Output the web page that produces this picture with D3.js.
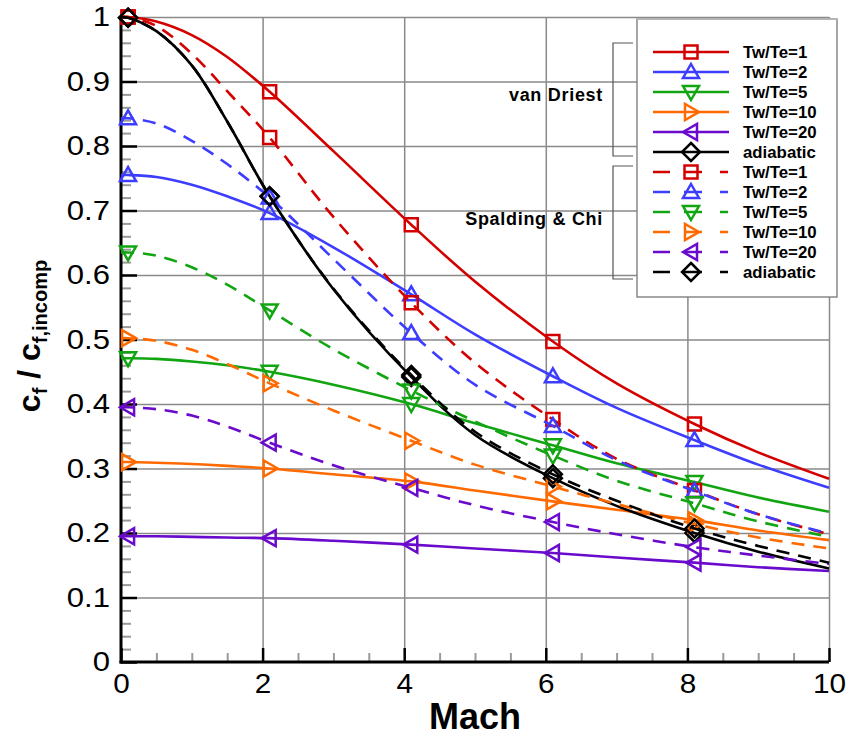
<!DOCTYPE html>
<html><head><meta charset="utf-8">
<script src="https://cdn.jsdelivr.net/npm/d3@7"></script>
<style>
body{margin:0;background:#fff}
svg{display:block}
text{font-family:"Liberation Sans",Arial,Helvetica,sans-serif}
</style>
</head><body>
<svg id="chart" width="848" height="738"></svg>
<script>
// ---------- data ----------
const mach = [0, 0.1, 0.5, 1, 1.5, 2.1, 3, 4.1, 5, 6.1, 7, 8.1, 9, 10];
const markerMach = [0.1, 2.1, 4.1, 6.1, 8.1];

// van Driest (solid)
const vd1  = [1.000, 1.000, 0.993, 0.972, 0.938, 0.884, 0.792, 0.678, 0.590, 0.497, 0.432, 0.369, 0.325, 0.284];
const vd2  = [0.755, 0.755, 0.752, 0.740, 0.722, 0.696, 0.643, 0.570, 0.508, 0.443, 0.394, 0.344, 0.306, 0.270];
const vd5  = [0.471, 0.471, 0.470, 0.466, 0.460, 0.450, 0.430, 0.400, 0.370, 0.336, 0.308, 0.279, 0.255, 0.233];
const vd10 = [0.310, 0.310, 0.309, 0.307, 0.304, 0.300, 0.291, 0.280, 0.266, 0.249, 0.236, 0.220, 0.204, 0.189];
const vd20 = [0.195, 0.195, 0.195, 0.194, 0.193, 0.192, 0.188, 0.182, 0.176, 0.169, 0.162, 0.154, 0.147, 0.141];
const vdAd = [1.000, 0.999, 0.978, 0.925, 0.838, 0.722, 0.578, 0.442, 0.352, 0.285, 0.242, 0.200, 0.171, 0.145];

// Spalding & Chi (dashed)
const sc1  = [1.000, 1.000, 0.986, 0.943, 0.885, 0.813, 0.690, 0.557, 0.464, 0.376, 0.315, 0.266, 0.229, 0.198];
const sc2  = [0.843, 0.843, 0.835, 0.808, 0.772, 0.720, 0.625, 0.510, 0.430, 0.366, 0.313, 0.265, 0.229, 0.199];
const sc5  = [0.635, 0.635, 0.630, 0.612, 0.585, 0.545, 0.485, 0.421, 0.373, 0.320, 0.281, 0.246, 0.218, 0.194];
const sc10 = [0.502, 0.502, 0.498, 0.484, 0.462, 0.432, 0.390, 0.343, 0.306, 0.272, 0.245, 0.214, 0.193, 0.176];
const sc20 = [0.395, 0.395, 0.392, 0.382, 0.365, 0.340, 0.305, 0.270, 0.243, 0.217, 0.198, 0.178, 0.165, 0.152];
const scAd = [1.000, 0.999, 0.978, 0.925, 0.838, 0.722, 0.579, 0.445, 0.357, 0.291, 0.250, 0.207, 0.180, 0.154];

const seriesNames = ["Tw/Te=1", "Tw/Te=2", "Tw/Te=5", "Tw/Te=10", "Tw/Te=20", "adiabatic"];
const groupNames = ["van Driest", "Spalding & Chi"];
const groupValues = [[vd1, vd2, vd5, vd10, vd20, vdAd], [sc1, sc2, sc5, sc10, sc20, scAd]];

const xTicks = [0, 2, 4, 6, 8, 10];
const xTickLabels = ["0", "2", "4", "6", "8", "10"];
const xMinor = [0.5, 1, 1.5, 2.5, 3, 3.5, 4.5, 5, 5.5, 6.5, 7, 7.5, 8.5, 9, 9.5];
const yTicks = [0, 0.1, 0.2, 0.3, 0.4, 0.5, 0.6, 0.7, 0.8, 0.9, 1];
const yTickLabels = ["0", "0.1", "0.2", "0.3", "0.4", "0.5", "0.6", "0.7", "0.8", "0.9", "1"];
const yMinor = d3.range(0, 50).map(i => i / 50).filter((v, i) => i % 5 !== 0);

const xTitle = "Mach";

// ---------- styles ----------
const colors = ["#d40000", "#3d3dff", "#12a512", "#ff6a00", "#6a0acc", "#000000"];
const shapes = ["square", "triUp", "triDown", "triRight", "triLeft", "diamond"];
const dashStyles = [null, "13,9"];

// ---------- layout ----------
const svg = d3.select("#chart");
const X0 = 121, X1 = 829, Y0 = 662, Y1 = 17;
const x = d3.scaleLinear().domain([0, 10]).range([X0, X1]);
const y = d3.scaleLinear().domain([0, 1]).range([Y0, Y1]);

function markerPath(shape) {
  switch (shape) {
    case "square": return "M-6.5,-6.5H6.5V6.5H-6.5Z";
    case "triUp": return "M0,-8L8,6L-8,6Z";
    case "triDown": return "M0,8L8,-6L-8,-6Z";
    case "triRight": return "M8,0L-6,-8L-6,8Z";
    case "triLeft": return "M-8,0L6,-8L6,8Z";
    case "diamond": return "M0,-9L9,0L0,9L-9,0Z";
  }
}
function stretch(sel, k) {
  sel.each(function () {
    const w = this.getComputedTextLength();
    d3.select(this).attr("textLength", w * k).attr("lengthAdjust", "spacingAndGlyphs");
  });
}

// grid
const grid = svg.append("g");
grid.append("g").attr("transform", `translate(0,${Y0})`)
  .call(d3.axisBottom(x).tickValues(xTicks.filter(v => v > 0)).tickSize(-(Y0 - Y1)).tickFormat(""))
  .call(g => g.select(".domain").remove())
  .call(g => g.selectAll("line").attr("stroke", "#8a8a8a").attr("stroke-width", 1.5));
grid.append("g").attr("transform", `translate(${X0},0)`)
  .call(d3.axisLeft(y).tickValues(yTicks.filter(v => v > 0)).tickSize(-(X1 - X0)).tickFormat(""))
  .call(g => g.select(".domain").remove())
  .call(g => g.selectAll("line").attr("stroke", "#8a8a8a").attr("stroke-width", 1.5));

// minor ticks
svg.append("g").attr("transform", `translate(0,${Y0})`)
  .call(d3.axisBottom(x).tickValues(xMinor).tickSize(-9).tickFormat(""))
  .call(g => g.select(".domain").remove())
  .call(g => g.selectAll("line").attr("stroke", "#9a9a9a").attr("stroke-width", 2));
svg.append("g").attr("transform", `translate(${X0},0)`)
  .call(d3.axisLeft(y).tickValues(yMinor).tickSize(-10).tickFormat(""))
  .call(g => g.select(".domain").remove())
  .call(g => g.selectAll("line").attr("stroke", "#9a9a9a").attr("stroke-width", 2));

// major axes
svg.append("g").attr("transform", `translate(0,${Y0})`)
  .call(d3.axisBottom(x).tickValues(xTicks).tickSize(-14).tickPadding(12).tickFormat((d, i) => xTickLabels[i]))
  .call(g => g.select(".domain").remove())
  .call(g => g.selectAll("line").attr("stroke", "#000").attr("stroke-width", 2.5))
  .call(g => g.selectAll("text").attr("font-size", 27).attr("fill", "#000")
    .style("font-family", '"Liberation Sans",Arial,sans-serif'))
  .call(g => stretch(g.selectAll("text"), 1.1));
svg.append("g").attr("transform", `translate(${X0},0)`)
  .call(d3.axisLeft(y).tickValues(yTicks).tickSize(-16).tickPadding(11).tickFormat((d, i) => yTickLabels[i]))
  .call(g => g.select(".domain").remove())
  .call(g => g.selectAll("line").attr("stroke", "#000").attr("stroke-width", 2.5))
  .call(g => g.selectAll("text").attr("font-size", 27).attr("fill", "#000")
    .style("font-family", '"Liberation Sans",Arial,sans-serif'))
  .call(g => stretch(g.selectAll("text"), 1.15));

svg.append("line").attr("x1", X0).attr("x2", X0).attr("y1", Y1).attr("y2", Y0 + 1.5)
  .attr("stroke", "#000").attr("stroke-width", 3);
svg.append("line").attr("x1", X0 - 1.5).attr("x2", X1).attr("y1", Y0).attr("y2", Y0)
  .attr("stroke", "#000").attr("stroke-width", 3);

// curves
const line = d3.line().x(d => x(d[0])).y(d => y(d[1])).curve(d3.curveCatmullRom.alpha(0.5));
const plot = svg.append("g");
groupValues.forEach((vals, gi) => {
  vals.forEach((arr, si) => {
    const pts = mach.map((m, i) => [m, arr[i]]);
    plot.append("path").attr("d", line(pts))
      .attr("fill", "none").attr("stroke", colors[si]).attr("stroke-width", 2.6)
      .attr("stroke-dasharray", dashStyles[gi]);
    plot.selectAll(null).data(pts.filter(p => markerMach.includes(p[0]))).enter()
      .append("path").attr("d", markerPath(shapes[si]))
      .attr("transform", d => `translate(${x(d[0])},${y(d[1])})`)
      .attr("fill", "none").attr("stroke", colors[si]).attr("stroke-width", 2.5);
  });
});

// legend
const LX = 637, LY = 19, LW = 200, LH = 278;
svg.append("rect").attr("x", LX).attr("y", LY).attr("width", LW).attr("height", LH)
  .attr("fill", "#fff").attr("stroke", "#777").attr("stroke-width", 1.3);
svg.append("line").attr("x1", LX).attr("x2", LX + LW).attr("y1", LY).attr("y2", LY)
  .attr("stroke", "#b5b5b5").attr("stroke-width", 2);
const rowH = 20, row0 = 52;
groupValues.forEach((vals, gi) => {
  seriesNames.forEach((name, si) => {
    const ry = row0 + (gi * seriesNames.length + si) * rowH;
    const g = svg.append("g");
    g.append("line").attr("x1", 653).attr("x2", 729).attr("y1", ry).attr("y2", ry)
      .attr("stroke", colors[si]).attr("stroke-width", 2.6)
      .attr("stroke-dasharray", gi === 1 ? "17,14,18,18,8" : null);
    g.append("path").attr("d", markerPath(shapes[si]))
      .attr("transform", `translate(691,${ry})`)
      .attr("fill", "none").attr("stroke", colors[si]).attr("stroke-width", 2.5);
    const t = g.append("text").attr("x", 743).attr("y", ry + 6).attr("font-size", 16)
      .attr("font-weight", "bold").attr("fill", "#000").text(name);
    stretch(t, 1.05);
  });
});

// brackets and group labels
const brackets = [[43, 156], [166, 279]];
const labelY = [101, 225];
brackets.forEach((b, i) => {
  svg.append("path").attr("d", `M633,${b[0]}H613V${b[1]}H633`)
    .attr("fill", "none").attr("stroke", "#555").attr("stroke-width", 1.2);
  svg.append("text").attr("x", 603).attr("y", labelY[i]).attr("text-anchor", "end")
    .attr("font-size", 18).attr("font-weight", "bold").attr("letter-spacing", 0.7)
    .attr("fill", "#000").text(groupNames[i]);
});

// axis titles
svg.append("text").attr("x", (X0 + X1) / 2).attr("y", 729).attr("text-anchor", "middle")
  .attr("font-size", 36).attr("font-weight", "bold").attr("fill", "#000").text(xTitle);

const yl = svg.append("text").attr("transform", "translate(40,336) rotate(-90)")
  .attr("text-anchor", "middle").attr("font-weight", "bold").attr("fill", "#000");
yl.append("tspan").attr("font-size", 32).text("c");
yl.append("tspan").attr("font-size", 20).attr("dy", 7).text("f");
yl.append("tspan").attr("font-size", 32).attr("dy", -7).text(" / ");
yl.append("tspan").attr("font-size", 32).text("c");
yl.append("tspan").attr("font-size", 20).attr("dy", 7).text("f,incomp");
</script>
</body></html>
